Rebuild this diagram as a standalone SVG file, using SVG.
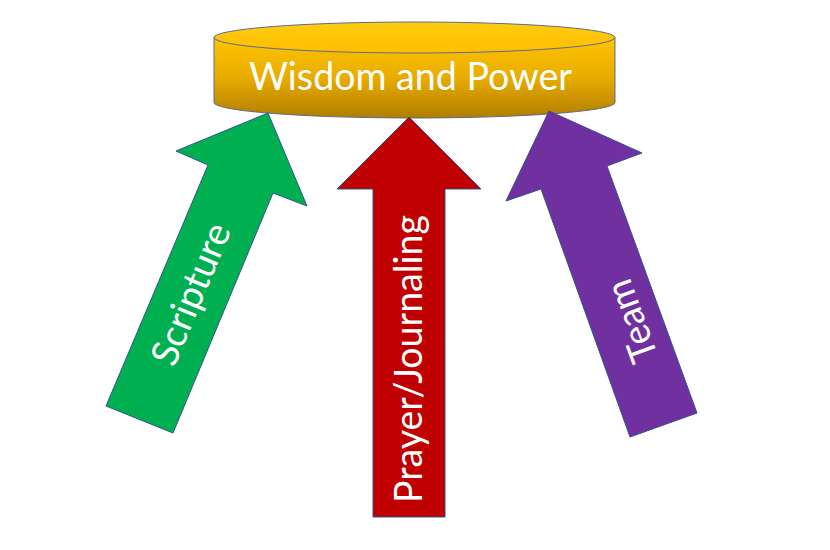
<svg xmlns="http://www.w3.org/2000/svg" width="830" height="550" viewBox="0 0 830 550">
<defs>
<linearGradient id="body" x1="0" y1="0" x2="0" y2="1">
<stop offset="0" stop-color="#FFC400"/>
<stop offset="0.5" stop-color="#E8AC00"/>
<stop offset="1" stop-color="#B07E00"/>
</linearGradient>
<linearGradient id="top" x1="0" y1="0" x2="0" y2="1">
<stop offset="0" stop-color="#FFCC10"/>
<stop offset="1" stop-color="#FFBE00"/>
</linearGradient>
</defs>
<style>
.arrow{stroke:#2F528F;stroke-width:1;stroke-linejoin:miter}
.lbl{font-family:Lato,"Open Sans","Liberation Sans",sans-serif;fill:#FFFFFF;font-size:38px;text-anchor:middle}
</style>
<rect width="830" height="550" fill="#FFFFFF"/>
<g id="wisdom">
<path d="M214,37.5 L214,102.5 A200.5,15.5 0 0 0 615,102.5 L615,37.5 Z" fill="url(#body)" stroke="#5B6E8C" stroke-width="1"/>
<ellipse cx="414.5" cy="37.5" rx="200.5" ry="15.5" fill="url(#top)" stroke="#5B6E8C" stroke-width="1"/>
<text class="lbl" x="410.5" y="90" textLength="323" lengthAdjust="spacingAndGlyphs">Wisdom and Power</text>
</g>
<g id="connectors">
<g id="scripture">
<polygon class="arrow" fill="#00B050" points="268,113 307,206 273,193 173,433 106,406 208,165 176,151"/>
<text class="lbl" transform="translate(203,299) rotate(-67.5)" x="0" y="0" textLength="150" lengthAdjust="spacingAndGlyphs">Scripture</text>
</g>
<g id="prayer">
<polygon class="arrow" fill="#C00000" points="409,117 481,189 445,189 445,517 373,517 373,189 337,189"/>
<text class="lbl" transform="translate(422,359) rotate(-90)" x="0" y="0" textLength="288" lengthAdjust="spacingAndGlyphs">Prayer/Journaling</text>
</g>
<g id="team">
<polygon class="arrow" fill="#7030A0" points="549,111 642,153 607,166 697,413 630,437 541,189 506,201"/>
<text class="lbl" transform="translate(644,316.5) rotate(-110)" x="0" y="0" textLength="85" lengthAdjust="spacingAndGlyphs">Team</text>
</g>
</g>
</svg>
